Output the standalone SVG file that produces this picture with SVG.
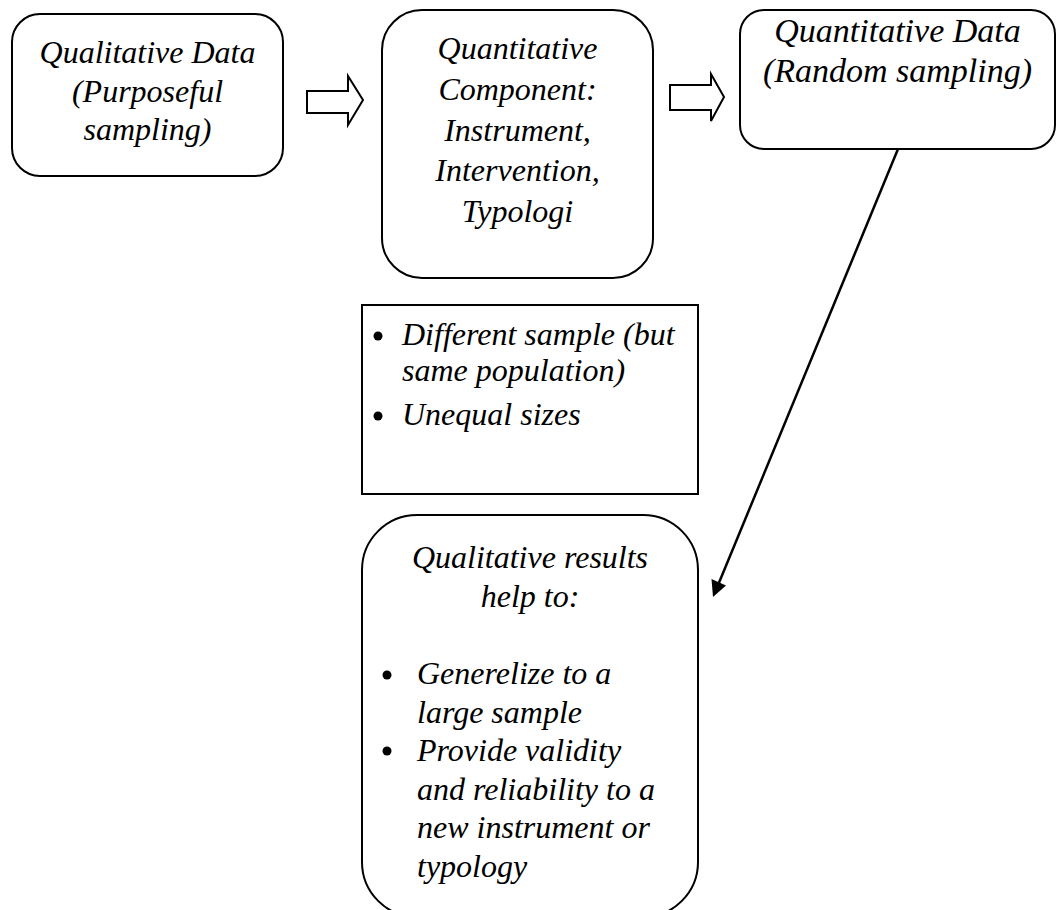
<svg xmlns="http://www.w3.org/2000/svg" width="1056" height="910" viewBox="0 0 1056 910">
<defs>
<style>
.box{fill:#fff;stroke:#000;stroke-width:2}
.t{font-family:"Liberation Serif","Times New Roman",serif;font-style:italic;font-size:32px;fill:#000}
.c{text-anchor:middle}
.blk{fill:#fff;stroke:#000;stroke-width:2;stroke-linejoin:miter}
.ln{stroke:#000;stroke-width:2.5;fill:none}
</style>
</defs>
<rect width="1056" height="910" fill="#fff"/>
<g id="qual-data">
<rect class="box" x="12" y="14" width="271" height="162" rx="28"/>
<text class="t c" x="147.5" y="63">Qualitative Data</text>
<text class="t c" x="147.5" y="101.5">(Purposeful</text>
<text class="t c" x="147.5" y="140">sampling)</text>
</g>
<g id="quant-component">
<rect class="box" x="382" y="10" width="271" height="268" rx="40"/>
<text class="t c" x="517.5" y="59">Quantitative</text>
<text class="t c" x="517.5" y="100">Component:</text>
<text class="t c" x="517.5" y="140.5">Instrument,</text>
<text class="t c" x="517.5" y="181">Intervention,</text>
<text class="t c" x="517.5" y="221.5">Typologi</text>
</g>
<g id="quant-data">
<rect class="box" x="740" y="10" width="315" height="139" rx="24"/>
<text class="t c" x="897.5" y="42" style="font-size:34px">Quantitative Data</text>
<text class="t c" x="897.5" y="82" style="font-size:34px">(Random sampling)</text>
</g>
<g id="sample-notes">
<rect x="362" y="305" width="336" height="189" fill="#fff" stroke="#000" stroke-width="2"/>
<circle cx="378" cy="336" r="4.5"/>
<text class="t" x="402" y="345">Different sample (but</text>
<text class="t" x="402" y="381">same population)</text>
<circle cx="378" cy="416" r="4.5"/>
<text class="t" x="402" y="425">Unequal sizes</text>
</g>
<g id="qual-results">
<rect class="box" x="362" y="515" width="336" height="402" rx="55"/>
<text class="t c" x="530" y="568">Qualitative results</text>
<text class="t c" x="530" y="607">help to:</text>
<circle cx="387" cy="675" r="4.5"/>
<text class="t" x="417" y="684">Generelize to a</text>
<text class="t" x="417" y="722.5">large sample</text>
<circle cx="387" cy="751" r="4.5"/>
<text class="t" x="417" y="761">Provide validity</text>
<text class="t" x="417" y="799.5">and reliability to a</text>
<text class="t" x="417" y="838">new instrument or</text>
<text class="t" x="417" y="876.5">typology</text>
</g>
<g id="connectors">
<path class="blk" d="M307,91 L348,91 L348,76 L363,100 L348,125 L348,113 L307,113 Z"/>
<path class="blk" d="M670,85 L711,85 L711,74 L724,97 L711,121 L711,110 L670,110 Z"/>
<line class="ln" x1="898" y1="149" x2="716" y2="590"/>
<path d="M713,597 L711.5,579 L726,585.5 Z" fill="#000"/>
</g>
</svg>
